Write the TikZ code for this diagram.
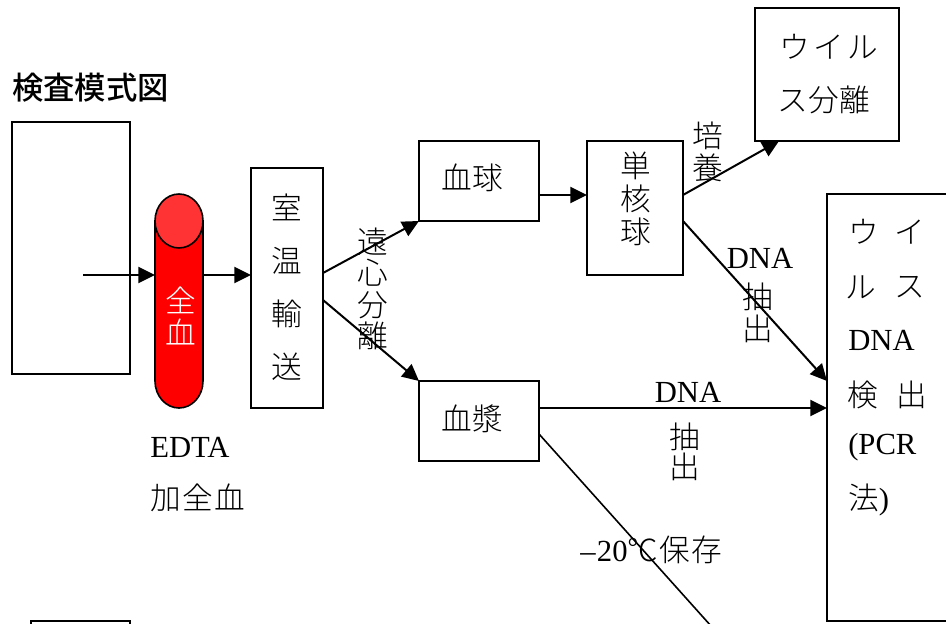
\documentclass[tikz,border=0pt]{standalone}
\usepackage{fontspec}
\usetikzlibrary{arrows.meta}
\setmainfont{Liberation Serif}
\newfontfamily\cjk{Noto Sans CJK JP Light}
\newfontfamily\cjkb{Noto Sans CJK JP Medium}
\tikzset{
  x=.75pt,y=-.75pt,
  boxn/.style={draw=black,line width=1.5pt,inner sep=0pt,outer sep=0pt,rectangle},
  linkl/.style={line width=1.5pt,-{Triangle[length=12.5pt,width=12pt]},shorten >=0pt},
  plainl/.style={line width=1.2pt},
  txt/.style={inner sep=0pt,outer sep=0pt,align=center,font=\fontsize{23}{39.75}\selectfont},
  tight/.style={inner sep=0pt,outer sep=0pt,align=center,font=\fontsize{23}{24.5}\selectfont},
  box/.style n args={4}{boxn,minimum width=(#3-#1)*.75pt,minimum height=(#4-#2)*.75pt,at={(#1/2+#3/2,#2/2+#4/2)}}
}
\begin{document}
\begin{tikzpicture}
\useasboundingbox (0,0) rectangle (946,624);
\begin{scope}
\clip (0,0) rectangle (946,624);
% boxes
\node[box={12}{122}{130}{374}] (src) {};
\node[box={251}{168}{323}{408}] (room) {};
\node[box={419}{141}{539}{221}] (cells) {};
\node[box={419}{381}{539}{461}] (plasma) {};
\node[box={587}{141}{683}{275}] (mono) {};
\node[box={755}{8}{899}{141}] (iso) {};
\node[box={827}{194}{980}{621}] (pcr) {};
\node[box={31}{621}{130}{660}] (small) {};
% tube
\node[inner sep=0pt,outer sep=0pt,minimum width=36pt,minimum height=160.5pt] (tube) at (179,301) {};
\draw[line width=1.2pt,fill=red] (155,221) -- (155,381) arc[start angle=180,end angle=360,x radius=24,y radius=-27] -- (203,221) -- cycle;
\draw[line width=1.2pt,fill={rgb,255:red,255;green,51;blue,51}] (179,221) ellipse[x radius=24,y radius=27];
% hidden end of the storage line
\coordinate (store) at (720,636);
% connectors
\draw[linkl] ([shift={(-47,27)}]src.east) -- (tube.west |- 0,275);
\draw[linkl] (tube.east |- 0,275) -- (room.west |- 0,275);
\draw[linkl] ([shift={(0,-15)}]room.east) -- (cells.south west);
\draw[linkl] ([shift={(0,12)}]room.east) -- (plasma.north west);
\draw[linkl] ([shift={(0,14)}]cells.east) -- ([shift={(0,-13)}]mono.west);
\draw[linkl] ([shift={(0,-13)}]mono.east) -- ([shift={(-120,0)}]iso.south east);
\draw[linkl] ([shift={(0,13)}]mono.east) -- (pcr.west |- 0,381);
\draw[linkl] ([shift={(0,-13)}]plasma.east) -- (pcr.west |- 0,408);
\draw[plainl] ([shift={(0,13)}]plasma.east) -- (store);
\end{scope}
% texts
\node[inner sep=0pt,anchor=west,font=\fontsize{23.5}{26}\selectfont\cjkb] (title) at (12,88) {検査模式図};
\node[tight,text=white] (t1) at (181,316) {\cjk 全\\[-1pt]\cjk 血};
\node[txt] (t2) at (287,287) {\cjk 室\\\cjk 温\\\cjk 輸\\\cjk 送};
\node[txt] (t3) at (472,178) {\cjk 血球};
\node[txt] (t4) at (472,419) {\cjk 血漿};
\node[tight,font=\fontsize{23}{23.5}\selectfont] (t5) at (373,289) {\cjk 遠\\\cjk 心\\\cjk 分\\\cjk 離};
\node[tight] (t6) at (636,199) {\cjk 単\\\cjk 核\\\cjk 球};
\node[tight] (t7) at (708,152) {\cjk 培\\\cjk 養};
\node[txt] (t8) at (829,47) {\cjk ウ\kern2.5pt イ\kern2.5pt ル};
\node[txt] (t9) at (824,100) {\cjk ス\kern.5pt 分\kern.5pt 離};
\node[txt,font=\fontsize{23}{24}\selectfont] (t10) at (760,258) {DNA};
\node[tight] (t11) at (758,313) {\cjk 抽\\\cjk 出};
\node[txt,font=\fontsize{23}{24}\selectfont] (t12) at (688,392) {DNA};
\node[txt,font=\fontsize{23}{22.5}\selectfont] (t13) at (685,452) {\cjk 抽\\\cjk 出};
\node[inner sep=0pt,anchor=west,font=\fontsize{23}{24}\selectfont] (t14) at (150,447) {EDTA};
\node[inner sep=0pt,anchor=west,font=\fontsize{23}{24}\selectfont] (t15) at (150,498) {\cjk 加\kern1pt 全\kern1pt 血};
\node[inner sep=0pt,anchor=west,font=\fontsize{23}{24}\selectfont] (t16) at (580,550) {–\kern1pt 20{\cjk ℃\kern1pt 保\kern1pt 存}};
\node[txt] (t17) at (864,232) {\cjk ウ};
\node[txt] (t18) at (910,232) {\cjk イ};
\node[txt] (t19) at (861,287) {\cjk ル};
\node[txt] (t20) at (910,287) {\cjk ス};
\node[inner sep=0pt,anchor=west,font=\fontsize{23}{24}\selectfont] (t21) at (848,340) {DNA};
\node[txt] (t22) at (863,395) {\cjk 検};
\node[txt] (t23) at (912,395) {\cjk 出};
\node[inner sep=0pt,anchor=west,font=\fontsize{23}{24}\selectfont] (t24) at (848,447) {(PCR};
\node[inner sep=0pt,anchor=west,font=\fontsize{23}{24}\selectfont] (t25) at (848,500) {{\cjk 法})};
\end{tikzpicture}
\end{document}
